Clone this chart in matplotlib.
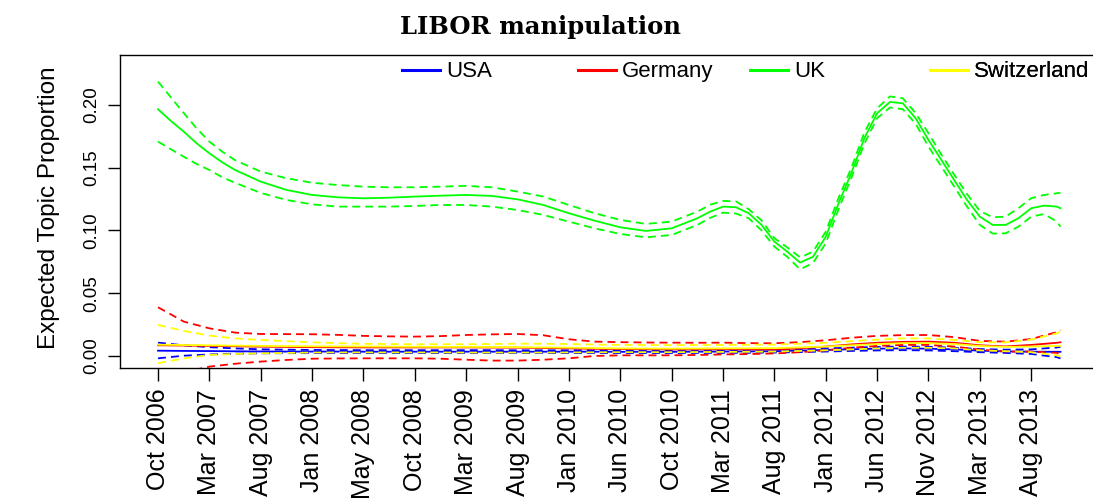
import numpy as np
import matplotlib.pyplot as plt

# time index (0 = Oct 2006, one step per tick label)
tick_labels = ["Oct 2006", "Mar 2007", "Aug 2007", "Jan 2008", "May 2008", "Oct 2008",
               "Mar 2009", "Aug 2009", "Jan 2010", "Jun 2010", "Oct 2010", "Mar 2011",
               "Aug 2011", "Jan 2012", "Jun 2012", "Nov 2012", "Mar 2013", "Aug 2013"]

# UK (denser where the curve bends sharply)
t_uk = [0, 0.25, 0.5, 0.75, 1, 1.25, 1.5, 2, 2.5, 3, 3.5, 4, 4.5, 5, 5.5, 6, 6.5, 7, 7.5, 8,
        8.5, 9, 9.5, 10, 10.5, 10.75, 11, 11.25, 11.5, 11.75, 12, 12.25, 12.5, 12.75, 13,
        13.25, 13.5, 13.75, 14, 14.25, 14.5, 14.75, 15, 15.25, 15.5, 15.75, 16, 16.25, 16.5,
        16.75, 17, 17.25, 17.5, 17.57]
uk_mean = [0.1966, 0.1873, 0.1788, 0.1695, 0.1615, 0.1543, 0.1482, 0.1389, 0.1323, 0.1283,
           0.1264, 0.1256, 0.1261, 0.1270, 0.1277, 0.1283, 0.1275, 0.1248, 0.1203, 0.1137,
           0.1078, 0.1025, 0.0996, 0.1017, 0.1097, 0.1150, 0.1190, 0.1185, 0.1137, 0.1044,
           0.0911, 0.0831, 0.0744, 0.0790, 0.0950, 0.1217, 0.1460, 0.1734, 0.1934, 0.2024,
           0.2013, 0.1894, 0.1721, 0.1562, 0.1402, 0.1243, 0.1110, 0.1044, 0.1044, 0.1097,
           0.1177, 0.1198, 0.1190, 0.1177]
uk_upper = [0.2186, 0.2061, 0.1936, 0.1814, 0.1708, 0.1628, 0.1560, 0.1469, 0.1416, 0.1380,
            0.1362, 0.1349, 0.1344, 0.1344, 0.1349, 0.1355, 0.1344, 0.1310, 0.1270, 0.1203,
            0.1137, 0.1084, 0.1052, 0.1070, 0.1150, 0.1205, 0.1235, 0.1232, 0.1169, 0.1080,
            0.0938, 0.0865, 0.0786, 0.0830, 0.0990, 0.1260, 0.1500, 0.1780, 0.1973, 0.2068,
            0.2053, 0.1935, 0.1774, 0.1605, 0.1445, 0.1290, 0.1155, 0.1105, 0.1110, 0.1177,
            0.1257, 0.1283, 0.1296, 0.1301]
uk_lower = [0.1708, 0.1647, 0.1588, 0.1530, 0.1482, 0.1424, 0.1380, 0.1299, 0.1243, 0.1208,
            0.1190, 0.1190, 0.1190, 0.1195, 0.1203, 0.1203, 0.1190, 0.1163, 0.1124, 0.1070,
            0.1017, 0.0972, 0.0945, 0.0964, 0.1044, 0.1100, 0.1142, 0.1135, 0.1097, 0.1000,
            0.0871, 0.0790, 0.0690, 0.0740, 0.0898, 0.1170, 0.1420, 0.1690, 0.1894, 0.1980,
            0.1966, 0.1850, 0.1668, 0.1510, 0.1350, 0.1190, 0.1044, 0.0975, 0.0977, 0.1030,
            0.1110, 0.1131, 0.1070, 0.1030]

# USA, Germany, Switzerland
t_small = [0, 0.5, 1, 1.5, 2, 2.5, 3, 3.5, 4, 4.5, 5, 5.5, 6, 6.5, 7, 7.5, 8, 8.5, 9, 9.5,
           10, 10.5, 11, 11.5, 12, 12.5, 13, 13.5, 14, 14.5, 15, 15.5, 16, 16.5, 17, 17.5, 17.57]
usa_mean = [0.0042, 0.0040, 0.0039, 0.0037, 0.0036, 0.0035, 0.0035, 0.0035, 0.0034, 0.0034,
            0.0034, 0.0034, 0.0034, 0.0034, 0.0034, 0.0034, 0.0034, 0.0034, 0.0033, 0.0033,
            0.0033, 0.0034, 0.0035, 0.0036, 0.0038, 0.0043, 0.0048, 0.0053, 0.0058, 0.0060,
            0.0058, 0.0052, 0.0042, 0.0036, 0.0034, 0.0033, 0.0033]
usa_upper = [0.0106, 0.0085, 0.0070, 0.0060, 0.0053, 0.0050, 0.0048, 0.0047, 0.0046, 0.0046,
             0.0046, 0.0046, 0.0046, 0.0046, 0.0045, 0.0045, 0.0045, 0.0045, 0.0045, 0.0045,
             0.0045, 0.0045, 0.0046, 0.0048, 0.0050, 0.0055, 0.0060, 0.0066, 0.0072, 0.0075,
             0.0073, 0.0066, 0.0055, 0.0050, 0.0052, 0.0068, 0.0072]
usa_lower = [-0.0019, 0.0002, 0.0012, 0.0018, 0.0021, 0.0022, 0.0023, 0.0023, 0.0023, 0.0023,
             0.0023, 0.0023, 0.0023, 0.0023, 0.0023, 0.0023, 0.0023, 0.0023, 0.0023, 0.0023,
             0.0023, 0.0024, 0.0024, 0.0025, 0.0027, 0.0031, 0.0035, 0.0040, 0.0044, 0.0046,
             0.0044, 0.0038, 0.0030, 0.0024, 0.0016, -0.0010, -0.0019]
ger_mean = [0.0085, 0.0083, 0.0080, 0.0077, 0.0074, 0.0072, 0.0070, 0.0069, 0.0068, 0.0068,
            0.0068, 0.0068, 0.0068, 0.0067, 0.0066, 0.0063, 0.0060, 0.0057, 0.0055, 0.0053,
            0.0052, 0.0052, 0.0053, 0.0052, 0.0052, 0.0060, 0.0075, 0.0092, 0.0105, 0.0112,
            0.0114, 0.0105, 0.0085, 0.0076, 0.0088, 0.0105, 0.0109]
ger_upper = [0.0388, 0.0274, 0.0220, 0.0186, 0.0175, 0.0174, 0.0173, 0.0168, 0.0160, 0.0156,
             0.0154, 0.0158, 0.0167, 0.0172, 0.0175, 0.0165, 0.0133, 0.0114, 0.0110, 0.0107,
             0.0106, 0.0105, 0.0106, 0.0102, 0.0101, 0.0110, 0.0125, 0.0145, 0.0160, 0.0166,
             0.0167, 0.0150, 0.0120, 0.0114, 0.0135, 0.0190, 0.0207]
ger_lower = [-0.0220, -0.0130, -0.0085, -0.0062, -0.0045, -0.0032, -0.0022, -0.0020, -0.0019,
             -0.0019, -0.0019, -0.0022, -0.0030, -0.0037, -0.0037, -0.0030, -0.0019, 0.0000,
             0.0005, 0.0005, 0.0005, 0.0008, 0.0012, 0.0015, 0.0020, 0.0030, 0.0045, 0.0065,
             0.0080, 0.0088, 0.0088, 0.0075, 0.0050, 0.0035, 0.0035, 0.0025, 0.0015]
swi_mean = [0.0090, 0.0087, 0.0085, 0.0082, 0.0080, 0.0078, 0.0077, 0.0076, 0.0075, 0.0074,
            0.0073, 0.0072, 0.0072, 0.0071, 0.0070, 0.0068, 0.0066, 0.0063, 0.0060, 0.0059,
            0.0058, 0.0059, 0.0060, 0.0061, 0.0062, 0.0068, 0.0075, 0.0085, 0.0095, 0.0102,
            0.0102, 0.0095, 0.0080, 0.0072, 0.0075, 0.0080, 0.0080]
swi_upper = [0.0247, 0.0200, 0.0162, 0.0140, 0.0127, 0.0118, 0.0109, 0.0102, 0.0097, 0.0095,
             0.0093, 0.0093, 0.0093, 0.0095, 0.0098, 0.0097, 0.0095, 0.0091, 0.0088, 0.0087,
             0.0086, 0.0087, 0.0088, 0.0089, 0.0090, 0.0097, 0.0105, 0.0118, 0.0130, 0.0140,
             0.0140, 0.0128, 0.0110, 0.0108, 0.0130, 0.0180, 0.0194]
swi_lower = [-0.0058, -0.0020, 0.0008, 0.0016, 0.0021, 0.0024, 0.0027, 0.0028, 0.0028, 0.0028,
             0.0028, 0.0028, 0.0027, 0.0027, 0.0027, 0.0027, 0.0028, 0.0029, 0.0030, 0.0030,
             0.0030, 0.0031, 0.0032, 0.0033, 0.0035, 0.0040, 0.0045, 0.0052, 0.0060, 0.0065,
             0.0065, 0.0060, 0.0045, 0.0038, 0.0030, 0.0005, -0.0005]

series = [
    ("USA", "#0000FF", t_small, usa_mean, usa_upper, usa_lower),
    ("Germany", "#FF0000", t_small, ger_mean, ger_upper, ger_lower),
    ("UK", "#00FF00", t_uk, uk_mean, uk_upper, uk_lower),
    ("Switzerland", "#FFFF00", t_small, swi_mean, swi_upper, swi_lower),
]

fig = plt.figure(figsize=(10.93, 5.01), dpi=100)
ax = fig.add_axes([120 / 1093, 1 - 368 / 501, 978 / 1093, 313 / 501])

dash = (0, (4.4, 2.8))
handles = []
for name, col, t, m, up, lo in series:
    h, = ax.plot(t, m, color=col, lw=1.3, label=name)
    ax.plot(t, up, color=col, lw=1.3, ls=dash)
    ax.plot(t, lo, color=col, lw=1.3, ls=dash)
    handles.append(h)

ax.set_xlim(-0.74, 18.3)
ax.set_ylim(-0.0096, 0.2398)

ax.set_xticks(range(len(tick_labels)))
ax.set_xticklabels(tick_labels, rotation=90, fontsize=18, family="Liberation Sans")
ax.set_yticks([0, 0.05, 0.10, 0.15, 0.20])
ax.set_yticklabels(["0.00", "0.05", "0.10", "0.15", "0.20"], rotation=90, va="center",
                   fontsize=13.5, family="Liberation Sans")
ax.tick_params(axis="x", length=9, width=1, pad=6)
ax.tick_params(axis="y", length=9, width=1, pad=5)
for s in ax.spines.values():
    s.set_linewidth(1)

ax.set_ylabel("Expected Topic Proportion", fontsize=17.5, family="Liberation Sans", va="center")
ax.yaxis.set_label_coords(-0.0726, 0.513)

fig.text(0.494, 1 - 27 / 501, "LIBOR manipulation", ha="center", va="center",
         fontsize=17.5, fontweight="bold", family="DejaVu Serif")

# legend, one fixed-width slot per entry as in the original
leg_x = [402, 578, 750, 930]
for h, px in zip(handles, leg_x):
    lg = ax.legend([h], [h.get_label()], loc="center left",
                   bbox_to_anchor=((px - 120) / 978, 0.946), frameon=False,
                   borderpad=0, borderaxespad=0, handlelength=1.7, handletextpad=0.27,
                   prop={"family": "Liberation Sans", "size": 16})
    for ln in lg.get_lines():
        ln.set_linewidth(2.2)
    ax.add_artist(lg)

fig.savefig("out.png", dpi=100)
